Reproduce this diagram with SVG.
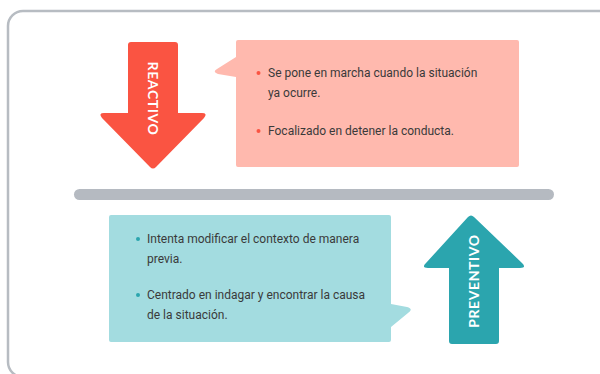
<svg xmlns="http://www.w3.org/2000/svg" width="600" height="374" viewBox="0 0 600 374">
<style>
.txt{font-family:Roboto,"Liberation Sans",sans-serif;font-size:12px;fill:#3a3a3a}
.lbl{font-family:Lato,"Liberation Sans",sans-serif;font-weight:bold;font-size:14px;fill:#ffffff;text-anchor:middle;letter-spacing:0.6px}
</style>
<rect width="600" height="374" fill="#ffffff"/>
<rect x="8" y="11" width="620" height="366" rx="15" fill="#ffffff" stroke="#b7bcc2" stroke-width="2.5"/>
<g id="connectors">
<rect x="74" y="189" width="480" height="11" rx="5.5" fill="#b5bac1"/>
</g>
<g id="reactivo">
<path d="M131,42 H175 Q178,42 178,45 V113 H202 Q208,113 204,118 L156,167 Q153,170 150,167 L102,118 Q98,113 104,113 H128 V45 Q128,42 131,42 Z" fill="#fa5442"/>
<text class="lbl" transform="translate(148,98.5) rotate(90)">REACTIVO</text>
</g>
<g id="reactivo-box">
<path d="M238,40 H517 Q519,40 519,42 V165 Q519,167 517,167 H238 Q236,167 236,165 V77 L218,74 Q212,72 217,69 L236,57 V42 Q236,40 238,40 Z" fill="#ffb9ae"/>
<circle cx="258.5" cy="73" r="2" fill="#fa5442"/>
<text class="txt" x="268" y="77">Se pone en marcha cuando la situación</text>
<text class="txt" x="268" y="97">ya ocurre.</text>
<circle cx="258.5" cy="131" r="2" fill="#fa5442"/>
<text class="txt" x="268" y="135">Focalizado en detener la conducta.</text>
</g>
<g id="preventivo">
<path d="M468,217 Q471,214 474,217 L522,263 Q527,268 520,268 H499 V341 Q499,344 496,344 H452 Q449,344 449,341 V268 H428 Q421,268 426,263 Z" fill="#2ba5ae"/>
<text class="lbl" transform="translate(479,281) rotate(-90)">PREVENTIVO</text>
</g>
<g id="preventivo-box">
<path d="M111,215 H389 Q391,215 391,217 V304 L407,307 Q414,309 408,313 L391,327 V340 Q391,342 389,342 H111 Q109,342 109,340 V217 Q109,215 111,215 Z" fill="#a3dce0"/>
<circle cx="138" cy="239" r="2" fill="#2ba5ae"/>
<text class="txt" x="147" y="243">Intenta modificar el contexto de manera</text>
<text class="txt" x="147" y="263">previa.</text>
<circle cx="138" cy="295" r="2" fill="#2ba5ae"/>
<text class="txt" x="147" y="299">Centrado en indagar y encontrar la causa</text>
<text class="txt" x="147" y="319">de la situación.</text>
</g>
</svg>
